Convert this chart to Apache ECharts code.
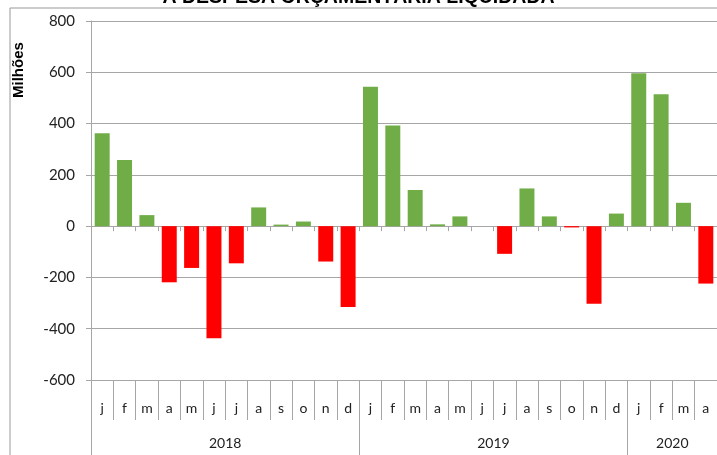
<!DOCTYPE html>
<html><head><meta charset="utf-8">
<script src="https://cdn.jsdelivr.net/npm/echarts@6/dist/echarts.min.js"></script>
<style>html,body{margin:0;padding:0;background:#fff}#c{width:717px;height:455px}</style>
</head><body><div id="c"></div>
<script>
const titleText = 'A DESPESA ORÇAMENTÁRIA LIQUIDADA';
const yName = 'Milhões';
const years = ['2018', '2019', '2020'];
const monthLetters = ['j','f','m','a','m','j','j','a','s','o','n','d'];
const monthsPerYear = [12, 12, 4];
const values2018 = [362, 258, 43, -219, -163, -437, -145, 73, 6, 18, -138, -315];
const values2019 = [544, 392, 141, 7, 38, 0, -108, 147, 38, -5, -303, 49];
const values2020 = [596, 514, 91, -224];
const yTicks = [-600, -400, -200, 0, 200, 400, 600, 800];

const categories = [];
years.forEach((y, i) => { for (let m = 0; m < monthsPerYear[i]; m++) categories.push(monthLetters[m]); });
const values = values2018.concat(values2019, values2020);
const yearStarts = []; const yearMids = [];
let acc = 0;
monthsPerYear.forEach(n => { yearStarts.push(acc); yearMids.push(acc + n / 2); acc += n; });
yearStarts.push(acc);

const gray = '#a6a6a6';
const font = 'Lato, "Open Sans", sans-serif';
const chart = echarts.init(document.getElementById('c'), null, {renderer: 'canvas'});
chart.setOption({
  animation: false,
  backgroundColor: '#fff',
  title: { text: titleText, left: 'center', top: -12, padding: 0,
    textStyle: { fontFamily: 'Liberation Sans, Arial, sans-serif', fontWeight: 'bold', fontSize: 19.5, color: '#000' } },
  graphic: [
    { type: 'rect', shape: { x: 10, y: 8, width: 720, height: 460 }, style: { fill: 'none', stroke: '#999', lineWidth: 1 }, z: -1 },
    { type: 'text', x: 11, y: 98, rotation: Math.PI / 2, style: { text: yName, font: 'bold 15px "Liberation Sans", Arial, sans-serif', fill: '#000' } }
  ],
  grid: { left: 91, top: 21, bottom: 75, width: 627, containLabel: false },
  xAxis: [
    { type: 'category', data: categories, boundaryGap: true,
      axisLine: { show: true, onZero: true, lineStyle: { color: gray } },
      axisTick: { show: true, length: 5, interval: 0, lineStyle: { color: gray } },
      axisLabel: { show: false }, splitLine: { show: false } },
    { type: 'category', data: categories, position: 'bottom', boundaryGap: true,
      axisLine: { show: false, onZero: false },
      axisTick: { show: true, length: 40, interval: 0, lineStyle: { color: gray } },
      axisLabel: { show: true, interval: 0, margin: 21, fontSize: 14, fontFamily: font, color: '#222' },
      splitLine: { show: false } },
    { type: 'value', min: 0, max: acc, position: 'bottom',
      axisLine: { show: false, onZero: false },
      axisTick: { show: true, length: 80, customValues: yearStarts, lineStyle: { color: gray } },
      axisLabel: { show: true, customValues: yearMids, margin: 56, fontSize: 14, fontFamily: font, color: '#222',
        formatter: v => years[yearMids.indexOf(v)] || '' },
      splitLine: { show: false } }
  ],
  yAxis: { type: 'value', min: yTicks[0], max: yTicks[yTicks.length - 1], interval: 200,
    axisLine: { show: true, lineStyle: { color: gray } },
    axisTick: { show: true, length: 5, lineStyle: { color: gray } },
    axisLabel: { margin: 16, fontSize: 15, fontFamily: font, color: '#222' },
    splitLine: { show: true, lineStyle: { color: gray, width: 1 } } },
  series: [{
    type: 'bar', xAxisIndex: 0, yAxisIndex: 0, data: values, barCategoryGap: '33%',
    itemStyle: { color: p => p.value >= 0 ? '#70ad47' : '#ff0000' }
  }]
});
</script></body></html>
